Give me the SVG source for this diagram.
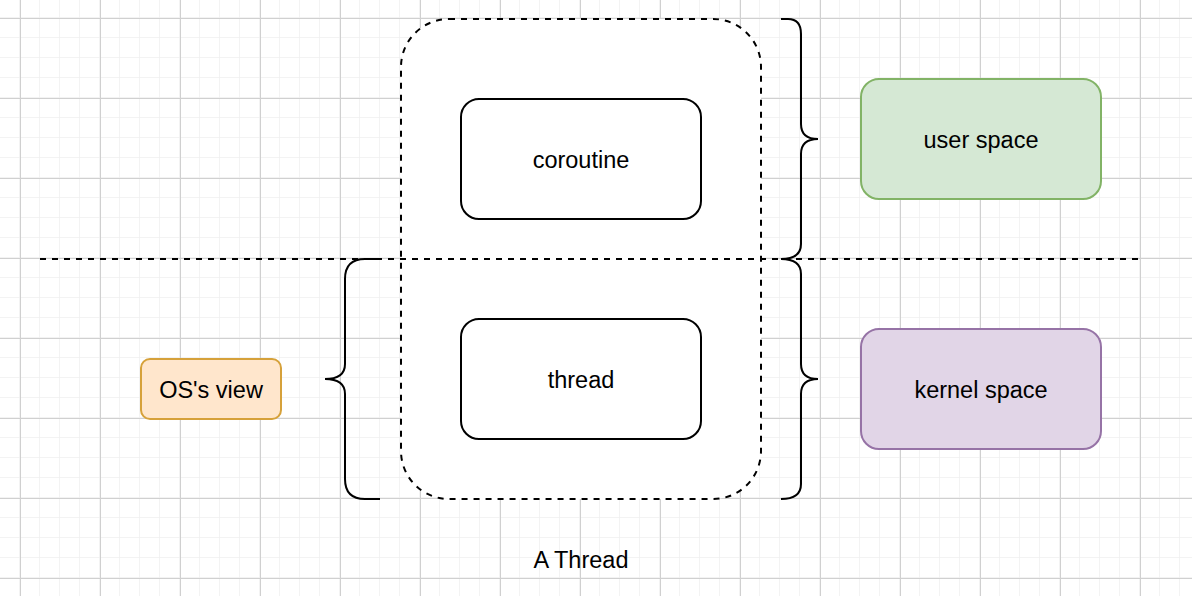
<svg xmlns="http://www.w3.org/2000/svg" width="1192" height="596" viewBox="0 0 1192 596">
<defs>
<pattern id="minor" x="0" y="-2" width="20" height="20" patternUnits="userSpaceOnUse">
<path d="M20 0V20M0 20H20" fill="none" stroke="#f0f0f0" stroke-width="1.5"/>
</pattern>
<pattern id="major" x="20" y="18" width="80" height="80" patternUnits="userSpaceOnUse">
<path d="M0.5 0V80M0 0.5H80" fill="none" stroke="#d0d0d0" stroke-width="1"/>
</pattern>
<style>
.lbl{font-family:"Liberation Sans",Arial,sans-serif;font-size:23.5px;fill:#000;text-anchor:middle;dominant-baseline:central}
.box{fill:#fff;stroke:#000;stroke-width:2}
.brace{fill:none;stroke:#000;stroke-width:2}
.dash{fill:none;stroke:#000;stroke-width:2;stroke-dasharray:6 6}
</style>
</defs>
<rect width="1192" height="596" fill="#fff"/>
<rect width="1192" height="596" fill="url(#minor)"/>
<rect width="1192" height="596" fill="url(#major)"/>

<g id="thread-container">
<rect x="401" y="19" width="360" height="480" rx="48" ry="48" class="dash" style="fill:#fff"/>
</g>
<g id="connectors">
<path d="M40 259H1140" class="dash"/>
<path class="brace" d="M380 259H365Q345 259 345 279V364Q345 379 325 379Q345 379 345 394V479Q345 499 365 499H380"/>
<path class="brace" d="M781 19H788Q801 19 801 34V124Q801 139 818 139Q801 139 801 154V244Q801 259 781 259"/>
<path class="brace" d="M781 259Q801 259 801 274V364Q801 379 818 379Q801 379 801 394V484Q801 499 781 499"/>
</g>
<g id="coroutine">
<rect x="461" y="99" width="240" height="120" rx="18" class="box"/>
<text x="581" y="160" class="lbl">coroutine</text>
</g>
<g id="thread">
<rect x="461" y="319" width="240" height="120" rx="18" class="box"/>
<text x="581" y="380" class="lbl">thread</text>
</g>
<g id="user-space">
<rect x="861" y="79" width="240" height="120" rx="18" fill="#d5e8d4" stroke="#82b366" stroke-width="2"/>
<text x="981" y="140" class="lbl">user space</text>
</g>
<g id="kernel-space">
<rect x="861" y="329" width="240" height="120" rx="18" fill="#e1d5e7" stroke="#9673a6" stroke-width="2"/>
<text x="981" y="390" class="lbl">kernel space</text>
</g>
<g id="os-view">
<rect x="141" y="359" width="140" height="60" rx="9" fill="#ffe6cc" stroke="#d6a13a" stroke-width="2"/>
<text x="211" y="390" class="lbl">OS's view</text>
</g>
<g id="label">
<text x="581" y="560" class="lbl">A Thread</text>
</g>
</svg>
